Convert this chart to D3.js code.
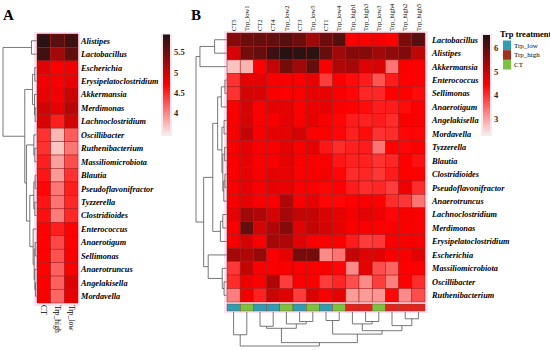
<!DOCTYPE html>
<html>
<head>
<meta charset="utf-8">
<script src="https://cdn.jsdelivr.net/npm/d3@7"></script>
<style>
  body { margin: 0; background: #fff; }
  svg { display: block; }
</style>
</head>
<body>
<div id="chart"></div>
<script>
// ---- panel A data ----
var rowsA = ['Alistipes', 'Lactobacillus', 'Escherichia', 'Erysipelatoclostridium', 'Akkermansia',
	'Merdimonas', 'Lachnoclostridium', 'Oscillibacter', 'Ruthenibacterium', 'Massiliomicrobiota',
	'Blautia', 'Pseudoflavonifractor', 'Tyzzerella', 'Clostridioides', 'Enterococcus',
	'Anaerotigum', 'Sellimonas', 'Anaerotruncus', 'Angelakisella', 'Mordavella'];
var colsA = ['CT', 'Trp_high', 'Trp_low'];
var valsA = [
	[5.87, 5.62, 5.78],
	[5.75, 5.20, 5.58],
	[4.87, 4.72, 4.80],
	[4.78, 4.75, 4.83],
	[4.83, 4.78, 5.00],
	[4.96, 4.84, 5.10],
	[4.92, 4.55, 4.96],
	[4.45, 3.75, 4.22],
	[4.45, 3.68, 4.10],
	[4.55, 3.87, 4.30],
	[4.60, 3.90, 4.45],
	[4.68, 4.08, 4.55],
	[4.60, 4.10, 4.50],
	[4.62, 4.06, 4.50],
	[4.70, 4.55, 4.70],
	[4.70, 4.33, 4.70],
	[4.70, 4.28, 4.75],
	[4.70, 4.20, 4.75],
	[4.72, 4.20, 4.90],
	[4.75, 4.17, 4.85]
];
var ticksA = [4, 4.5, 5, 5.5];
var rangeA = [3.47, 5.94];
// tree: [height, left, right], leaves are row indexes
var treeA = [100, [15, 0, 1], [35, [12, [5, 2, 3], [6, 4, [4, 5, 6]]],
	[30, [8, 7, [5, 8, 9]], [20, [8, [4, 10, 11], [5, 12, 13]],
	[10, 14, [7, [4, 15, 16], [5, 17, [3, 18, 19]]]]]]]];

// ---- panel B data ----
var rowsB = ['Lactobacillus', 'Alistipes', 'Akkermansia', 'Enterococcus', 'Sellimonas',
	'Anaerotigum', 'Angelakisella', 'Mordavella', 'Tyzzerella', 'Blautia',
	'Clostridioides', 'Pseudoflavonifractor', 'Anaerotruncus', 'Lachnoclostridium', 'Merdimonas',
	'Erysipelatoclostridium', 'Escherichia', 'Massiliomicrobiota', 'Oscillibacter', 'Ruthenibacterium'];
var colsB = ['CT5', 'Trp_low1', 'CT2', 'CT4', 'Trp_low2', 'CT3', 'Trp_low5', 'CT1', 'Trp_low4',
	'Trp_high1', 'Trp_high3', 'Trp_low3', 'Trp_high4', 'Trp_high2', 'Trp_high5'];
var groupsB = ['CT', 'Trp_low', 'CT', 'CT', 'Trp_low', 'CT', 'Trp_low', 'CT', 'Trp_low',
	'Trp_high', 'Trp_high', 'Trp_low', 'Trp_high', 'Trp_high', 'Trp_high'];
var valsB = [
	[5.60, 5.85, 5.90, 5.95, 6.05, 5.85, 5.35, 5.85, 6.10, 4.50, 4.50, 4.55, 4.45, 5.70, 6.05],
	[4.80, 5.75, 5.90, 6.30, 6.50, 6.45, 6.45, 5.90, 5.35, 5.60, 5.60, 5.35, 5.50, 5.65, 5.05],
	[2.70, 2.85, 4.50, 5.00, 5.75, 5.35, 5.90, 4.50, 5.20, 5.30, 4.75, 4.80, 3.40, 4.50, 4.45],
	[4.00, 4.70, 4.70, 4.50, 4.50, 4.50, 4.65, 3.90, 4.50, 4.35, 4.20, 3.70, 4.20, 4.45, 4.45],
	[4.00, 4.85, 4.80, 4.50, 4.45, 4.50, 4.70, 4.65, 4.50, 4.40, 4.10, 4.10, 4.45, 4.45, 4.35],
	[4.50, 4.85, 4.50, 4.70, 4.70, 4.50, 4.65, 4.70, 4.50, 4.45, 4.35, 4.20, 4.20, 4.35, 4.45],
	[4.50, 4.85, 4.50, 4.50, 4.70, 4.50, 4.70, 4.50, 4.40, 4.20, 4.15, 4.20, 4.05, 4.50, 4.50],
	[4.50, 5.00, 4.50, 4.70, 4.70, 4.85, 4.50, 4.50, 4.40, 4.15, 4.35, 4.00, 4.05, 4.40, 4.40],
	[4.50, 4.70, 4.50, 4.50, 4.70, 4.50, 4.70, 4.25, 4.05, 4.15, 4.20, 3.40, 4.45, 4.40, 4.45],
	[4.50, 4.70, 4.50, 4.50, 4.70, 4.50, 4.50, 4.50, 4.25, 4.15, 4.15, 4.00, 4.10, 4.45, 4.30],
	[4.50, 4.70, 4.50, 4.70, 4.65, 4.50, 4.50, 4.55, 4.40, 4.05, 4.10, 3.95, 4.20, 4.45, 4.45],
	[4.50, 4.70, 4.50, 4.70, 4.65, 4.50, 4.50, 4.40, 4.45, 4.20, 4.05, 4.10, 3.90, 4.60, 4.05],
	[4.50, 4.70, 4.50, 4.50, 5.20, 4.50, 4.70, 4.40, 4.40, 4.45, 4.50, 4.45, 4.05, 3.95, 3.40],
	[4.70, 5.33, 5.20, 4.85, 5.30, 5.00, 5.00, 4.80, 4.70, 4.55, 4.70, 4.60, 4.40, 4.50, 4.50],
	[4.50, 5.90, 4.85, 5.20, 5.60, 4.75, 5.00, 4.85, 4.70, 4.50, 4.50, 4.45, 4.50, 4.50, 4.50],
	[4.50, 4.85, 4.50, 5.30, 5.20, 4.75, 4.50, 4.50, 4.50, 4.20, 3.90, 3.95, 4.50, 4.50, 4.50],
	[5.30, 5.20, 5.45, 4.50, 4.70, 5.75, 5.75, 3.20, 3.40, 5.00, 4.75, 4.75, 4.50, 4.50, 4.75],
	[3.95, 5.00, 4.50, 4.50, 4.50, 4.50, 4.50, 4.50, 4.40, 3.20, 4.70, 3.75, 3.55, 4.45, 4.45],
	[4.05, 4.60, 4.50, 5.20, 3.90, 4.50, 4.50, 3.90, 4.10, 3.75, 3.20, 3.90, 3.30, 4.45, 4.05],
	[3.30, 4.60, 4.15, 4.95, 4.75, 3.90, 4.80, 4.50, 4.70, 3.05, 3.05, 3.10, 4.40, 3.20, 3.75]
];
var ticksB = [3, 4, 5, 6];
var rangeB = [2.32, 6.57];
var treeRowsB = [100, [87, [39, 0, 1], 2],
	[75, [45, [29, [17, [5, 3, 4], 5], [15, [8, 6, 7], [12, [6, 8, 9], [9, [5, 10, 11], 12]]]],
	[20, [12, 13, 14], 15]],
	[60, 16, [14, 17, [8, 18, 19]]]]];
var treeColsB = [100, [67, 0, 1], [90, [48, [42, 2, 3], [35, 4, [28, 5, 6]]],
	[65, [25, 7, 8], [55, [35, 9, [28, 10, 11]], [40, 12, [20, 13, 14]]]]]];
var legendGroups = ['Trp_low', 'Trp_high', 'CT'];

// ---- drawing ----
var width = 550;
var height = 350;
var serif = '"Liberation Serif", "Times New Roman", serif';
var lineColor = '#555';

var svg = d3.select('#chart')
	.append('svg')
	.attr('width', width)
	.attr('height', height)
	.style('font-family', serif);

var defs = svg.append('defs');

function heatColor(range){
	var mid = (range[0] + range[1]) / 2;
	return d3.scaleLinear()
		.domain([range[0], mid, range[1]])
		.range(['#f8eee8', '#ff0000', '#1e1414'])
		.clamp(true);
}

function drawDendro(g, tree, posScale, hScale, vertical){
	var root = d3.hierarchy(tree, function(d){
		return Array.isArray(d) ? d.slice(1) : null;
	});
	root.eachAfter(function(n){
		if (n.children) {
			n.h = n.data[0];
			n.pos = d3.mean(n.children, function(c){ return c.pos; });
		} else {
			n.h = 0;
			n.pos = posScale(n.data) + posScale.bandwidth() / 2;
		}
	});
	var segs = [];
	root.each(function(n){
		if (!n.children) return;
		var a = n.children[0], b = n.children[1];
		segs.push([hScale(n.h), a.pos, hScale(n.h), b.pos]);
		n.children.forEach(function(c){
			segs.push([hScale(n.h), c.pos, hScale(c.h), c.pos]);
		});
	});
	g.selectAll('line')
		.data(segs)
		.enter()
		.append('line')
		.attr('x1', function(s){ return vertical ? s[1] : s[0]; })
		.attr('y1', function(s){ return vertical ? s[0] : s[1]; })
		.attr('x2', function(s){ return vertical ? s[3] : s[2]; })
		.attr('y2', function(s){ return vertical ? s[2] : s[3]; })
		.attr('stroke', lineColor)
		.attr('stroke-width', 0.8);
}

function drawLegendBar(id, x, y0, y1, range, ticks){
	var color = heatColor(range);
	var grad = defs.append('linearGradient')
		.attr('id', id)
		.attr('x1', 0).attr('y1', 1).attr('x2', 0).attr('y2', 0);
	d3.range(0, 1.0001, 0.05).forEach(function(t){
		grad.append('stop')
			.attr('offset', t)
			.attr('stop-color', color(range[0] + t * (range[1] - range[0])));
	});
	var ys = d3.scaleLinear().domain(range).range([y1, y0]);
	svg.append('rect')
		.attr('x', x - 2).attr('y', y0 - 1)
		.attr('width', 11).attr('height', y1 - y0 + 2)
		.attr('fill', '#fbe6f2');
	svg.append('rect')
		.attr('x', x).attr('y', y0)
		.attr('width', 7).attr('height', y1 - y0)
		.attr('fill', 'url(#' + id + ')');
	svg.append('g')
		.selectAll('text')
		.data(ticks)
		.enter()
		.append('text')
		.attr('x', x + 11)
		.attr('y', function(d){ return ys(d); })
		.attr('dy', '0.35em')
		.attr('font-size', 8.5)
		.attr('font-weight', 'bold')
		.attr('fill', '#3a1a1a')
		.text(function(d){ return d; });
}

function drawHeat(g, rows, cols, vals, xs, ys, color){
	var cells = [];
	vals.forEach(function(r, i){
		r.forEach(function(v, j){
			cells.push({row: rows[i], col: cols[j], v: v});
		});
	});
	g.selectAll('rect.cell')
		.data(cells)
		.enter()
		.append('rect')
		.attr('class', 'cell')
		.attr('x', function(d){ return xs(d.col); })
		.attr('y', function(d){ return ys(d.row); })
		.attr('width', xs.bandwidth())
		.attr('height', ys.bandwidth())
		.attr('fill', function(d){ return color(d.v); })
		.attr('stroke', '#a31414')
		.attr('stroke-width', 0.5);
}

// panel labels
svg.append('text').attr('x', 3).attr('y', 20)
	.attr('font-size', 15).attr('font-weight', 'bold').text('A');
svg.append('text').attr('x', 191).attr('y', 20)
	.attr('font-size', 15).attr('font-weight', 'bold').text('B');

// ---- panel A ----
var xA = d3.scaleBand().domain(colsA).range([37, 78]);
var yA = d3.scaleBand().domain(rowsA).range([34, 303]);
var rowIdxA = d3.scaleBand().domain(d3.range(rowsA.length)).range([34, 303]);

svg.append('rect').attr('x', 34).attr('y', 32).attr('width', 46).attr('height', 274)
	.attr('fill', '#fbe2f0');
drawHeat(svg.append('g'), rowsA, colsA, valsA, xA, yA, heatColor(rangeA));

svg.append('g')
	.selectAll('text')
	.data(rowsA)
	.enter()
	.append('text')
	.attr('x', 81)
	.attr('y', function(d){ return yA(d) + yA.bandwidth() / 2; })
	.attr('dy', '0.35em')
	.attr('font-size', 8.3)
	.attr('font-weight', 'bold')
	.attr('font-style', 'italic')
	.text(function(d){ return d; });

svg.append('g')
	.selectAll('text')
	.data(colsA)
	.enter()
	.append('text')
	.attr('transform', function(d){
		return 'translate(' + (xA(d) + xA.bandwidth() / 2) + ',305) rotate(90)';
	})
	.attr('dy', '0.35em')
	.attr('font-size', 7.5)
	.text(function(d){ return d; });

drawDendro(svg.append('g'), treeA, rowIdxA, d3.scaleLinear().domain([0, 100]).range([36.5, 3]), false);
drawLegendBar('gradA', 163, 34.5, 135, rangeA, ticksA);

// ---- panel B ----
var xB = d3.scaleBand().domain(colsB).range([227, 425]);
var yB = d3.scaleBand().domain(rowsB).range([33, 302]);
var rowIdxB = d3.scaleBand().domain(d3.range(rowsB.length)).range([33, 302]);
var colIdxB = d3.scaleBand().domain(d3.range(colsB.length)).range([227, 425]);

svg.append('rect').attr('x', 224).attr('y', 31).attr('width', 204).attr('height', 282)
	.attr('fill', '#fbe2f0');
drawHeat(svg.append('g'), rowsB, colsB, valsB, xB, yB, heatColor(rangeB));

var barColor = {CT: '#2f9db3', Trp_low: '#7cc242', Trp_high: '#e2231e'};
svg.append('g')
	.selectAll('rect')
	.data(colsB)
	.enter()
	.append('rect')
	.attr('x', function(d){ return xB(d); })
	.attr('y', 304)
	.attr('width', xB.bandwidth())
	.attr('height', 7)
	.attr('fill', function(d, i){ return barColor[groupsB[i]]; })
	.attr('stroke', '#7a3a2a')
	.attr('stroke-width', 0.4);

svg.append('g')
	.selectAll('text')
	.data(rowsB)
	.enter()
	.append('text')
	.attr('x', 432)
	.attr('y', function(d){ return yB(d) + yB.bandwidth() / 2; })
	.attr('dy', '0.35em')
	.attr('font-size', 8.3)
	.attr('font-weight', 'bold')
	.attr('font-style', 'italic')
	.text(function(d){ return d; });

svg.append('g')
	.selectAll('text')
	.data(colsB)
	.enter()
	.append('text')
	.attr('transform', function(d){
		return 'translate(' + (xB(d) + xB.bandwidth() / 2) + ',31) rotate(-90)';
	})
	.attr('dy', '0.35em')
	.attr('font-size', 6.5)
	.text(function(d){ return d; });

drawDendro(svg.append('g'), treeRowsB, rowIdxB, d3.scaleLinear().domain([0, 100]).range([226.5, 196]), false);
drawDendro(svg.append('g'), treeColsB, colIdxB, d3.scaleLinear().domain([0, 100]).range([312, 346]), true);
drawLegendBar('gradB', 483, 35, 135, rangeB, ticksB);

// treatment legend
var legendColor = {Trp_low: '#2f9db3', Trp_high: '#a3321c', CT: '#7cc242'};
svg.append('text')
	.attr('x', 500).attr('y', 37)
	.attr('font-size', 8.5)
	.attr('font-weight', 'bold')
	.text('Trp treatment');
var ly = d3.scaleBand().domain(legendGroups).range([40.5, 69.5]);
var leg = svg.append('g')
	.selectAll('g')
	.data(legendGroups)
	.enter()
	.append('g')
	.attr('transform', function(d){ return 'translate(503,' + ly(d) + ')'; });
leg.append('rect')
	.attr('width', 8)
	.attr('height', ly.bandwidth())
	.attr('fill', function(d){ return legendColor[d]; });
leg.append('text')
	.attr('x', 11)
	.attr('y', ly.bandwidth() / 2)
	.attr('dy', '0.35em')
	.attr('font-size', 7)
	.text(function(d){ return d; });
</script>
</body>
</html>
